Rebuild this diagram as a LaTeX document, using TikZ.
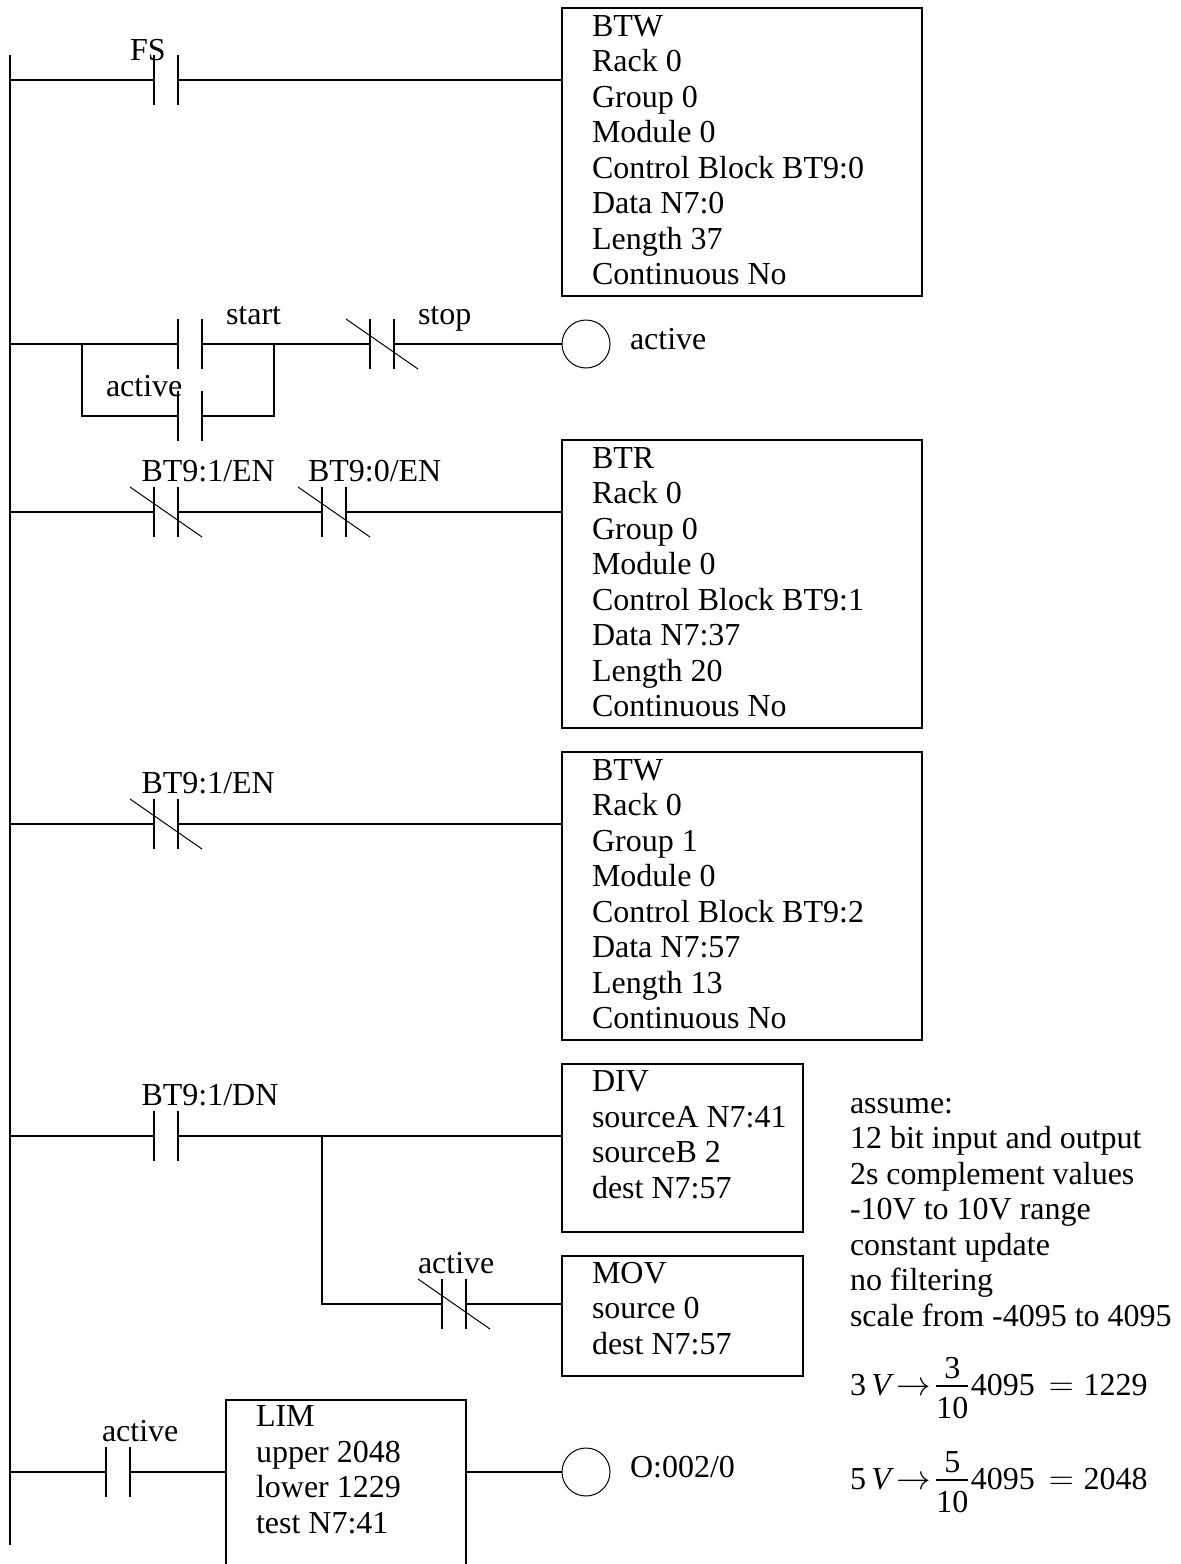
\documentclass[tikz,border=0pt]{standalone}
\usepackage{amsmath}
\usepackage{fontspec}
\setmainfont{Liberation Serif}
\usepackage{xcolor}
\usetikzlibrary{positioning}

\newcommand{\voltfrac}[1]{\genfrac{}{}{1pt}{0}{\raisebox{-3.5pt}[\height][0pt]{#1}}{\text{10}}}

\begin{document}
\begin{tikzpicture}[x=0.5pt,y=-0.5pt,font=\fontsize{16}{17.75}\selectfont,
  outer sep=0pt,inner sep=0pt,
  wire/.style={line width=1pt},
  thin wire/.style={line width=0.5pt},
  instr/.style={draw,line width=1pt,anchor=north west,minimum width=180pt},
  txt/.style={anchor=north west,align=left},
  lbl/.style={anchor=base west},
  contact/.style={minimum width=12pt,minimum height=25pt},
  coil/.style={circle,draw,line width=0.5pt,minimum size=24pt}]
\useasboundingbox (0,0) rectangle (1181,1564);
% power rail
\coordinate (railtop) at (10,55);
\coordinate (railbot) at (10,1545);
\draw[wire] (railtop) -- (railbot);
% instruction boxes
\node[instr,minimum height=144pt] (btwa) at (562,8) {};
\node[instr,minimum height=144pt] (btr) at (562,440) {};
\node[instr,minimum height=144pt] (btwb) at (562,752) {};
\node[instr,minimum width=120.5pt,minimum height=84pt] (div) at (562,1064) {};
\node[instr,minimum width=120.5pt,minimum height=60pt] (mov) at (562,1256) {};
\node[instr,minimum width=120pt,minimum height=110pt] (lim) at (226,1400) {};
\node[txt] (btwatxt) at (592,15.5) {BTW\\Rack 0\\Group 0\\Module 0\\Control Block BT9:0\\Data N7:0\\Length 37\\Continuous No};
\node[txt] (btrtxt) at (592,447.5) {BTR\\Rack 0\\Group 0\\Module 0\\Control Block BT9:1\\Data N7:37\\Length 20\\Continuous No};
\node[txt] (btwbtxt) at (592,759.5) {BTW\\Rack 0\\Group 1\\Module 0\\Control Block BT9:2\\Data N7:57\\Length 13\\Continuous No};
\node[txt] (divtxt) at (592,1071) {DIV\\sourceA N7:41\\sourceB 2\\dest N7:57};
\node[txt] (movtxt) at (592,1262) {MOV\\source 0\\dest N7:57};
\node[txt] (limtxt) at (256,1406) {LIM\\upper 2048\\lower 1229\\test N7:41};
% contacts
\node[contact] (fs) at (166,80) {};
\node[contact] (start) at (190,344) {};
\node[contact] (hold) at (190,416) {};
\node[contact] (stop) at (382,344) {};
\node[contact] (ena) at (166,512) {};
\node[contact] (enb) at (334,512) {};
\node[contact] (enc) at (166,824) {};
\node[contact] (dn) at (166,1136) {};
\node[contact] (nact) at (454,1304) {};
\node[contact] (act) at (118,1472) {};
\foreach \c in {fs,start,hold,stop,ena,enb,enc,dn,nact,act}
  \draw[wire] (\c.north west) -- (\c.south west) (\c.north east) -- (\c.south east);
\foreach \c in {stop,ena,enb,enc,nact}
  \draw[thin wire] ([xshift=-12pt]\c.north west) -- ([xshift=12pt]\c.south east);
% coils
\node[coil] (cact) at (586,344) {};
\node[coil] (cout) at (586,1472) {};
% rungs
\draw[wire] (railtop |- fs) -- (fs.west) (fs.east) -- (fs -| btwa.west);
\draw[wire] (railtop |- start) -- (start.west) (start.east) -- (stop.west) (stop.east) -- (cact.west);
\coordinate (brl) at (82,344);
\coordinate (brr) at (273.5,344);
\draw[wire] (brl) |- (hold.west) (hold.east) -| (brr);
\draw[wire] (railtop |- ena) -- (ena.west) (ena.east) -- (enb.west) (enb.east) -- (enb -| btr.west);
\draw[wire] (railtop |- enc) -- (enc.west) (enc.east) -- (enc -| btwb.west);
\draw[wire] (railtop |- dn) -- (dn.west) (dn.east) -- (dn -| div.west);
\coordinate (jct) at (322,1136);
\draw[wire] (jct) |- (nact.west) (nact.east) -- (nact -| mov.west);
\draw[wire] (railtop |- act) -- (act.west) (act.east) -- (act -| lim.west) (act -| lim.east) -- (cout.west);
% labels
\node[lbl] (lfs) at (130,60) {FS};
\node[lbl] (lstart) at (226,324) {start};
\node[lbl] (lstop) at (418,324) {stop};
\node[lbl] (lcact) at (630,349) {active};
\node[lbl] (lhold) at (106,396) {active};
\node[lbl] (lena) at (141.5,481) {BT9:1/EN};
\node[lbl] (lenb) at (308,481) {BT9:0/EN};
\node[lbl] (lenc) at (141.5,793) {BT9:1/EN};
\node[lbl] (ldn) at (141.5,1105) {BT9:1/DN};
\node[lbl] (lnact) at (418,1273) {active};
\node[lbl] (lact) at (102,1441) {active};
\node[lbl] (lout) at (630,1477) {O:002/0};
% notes
\node[txt] (notes) at (850,1098) {assume:\\12 bit input and output\\2s complement values\\-10V to 10V range\\constant update\\no filtering\\scale from -4095 to 4095};
\node[lbl] (eqa) at (850,1395) {$\displaystyle\text{3\,\textit{V}}\kern1.25pt{\rightarrow}\kern1.5pt\voltfrac{3}\text{4095}\kern7pt{=}\kern5pt\text{1229}$};
\node[lbl] (eqb) at (850,1489) {$\displaystyle\text{5\,\textit{V}}\kern1.25pt{\rightarrow}\kern1.5pt\voltfrac{5}\text{4095}\kern7pt{=}\kern5pt\text{2048}$};
\end{tikzpicture}
\end{document}
